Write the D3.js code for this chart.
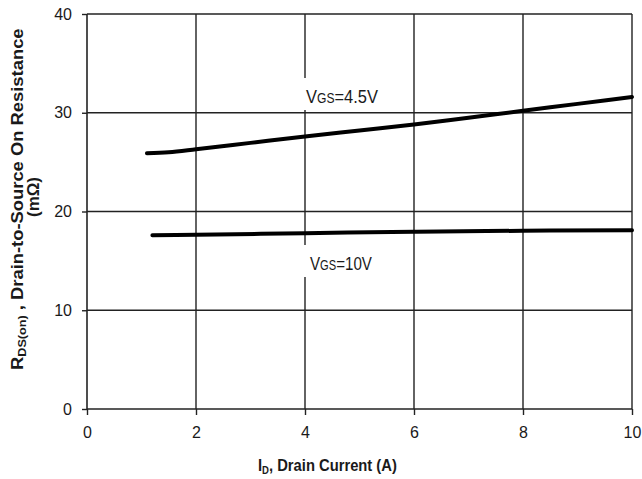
<!DOCTYPE html>
<html>
<head>
<meta charset="utf-8">
<script src="https://cdn.jsdelivr.net/npm/d3@7"></script>
<style>
  html, body { margin: 0; padding: 0; background: #fff; }
  svg { display: block; }
  text { font-family: "Liberation Sans Narrow", "Arial Narrow", "Liberation Sans", Arial, sans-serif; fill: #1a1a1a; }
</style>
</head>
<body>
<svg id="chart" width="642" height="479"></svg>
<script>
// On-resistance vs drain current, two gate voltages
const xTicks = [0, 2, 4, 6, 8, 10];
const yTicks = [0, 10, 20, 30, 40];

const currentVgs45 = [1.1, 1.5, 2, 3, 4, 5, 6, 7, 8, 9, 10];
const rdsVgs45     = [25.9, 26.0, 26.3, 26.95, 27.6, 28.2, 28.8, 29.5, 30.2, 30.9, 31.6];

const currentVgs10 = [1.2, 2, 4, 6, 8, 10];
const rdsVgs10     = [17.6, 17.65, 17.8, 17.95, 18.05, 18.1];

const svg = d3.select("#chart");

const x = d3.scaleLinear().domain([0, 10]).range([87, 632]);
const y = d3.scaleLinear().domain([0, 40]).range([409, 14]);

const gridColor = "#222";

// grid lines
svg.append("g").selectAll("line").data(yTicks.filter(d => d > 0)).join("line")
  .attr("x1", x(0)).attr("x2", x(10))
  .attr("y1", d => y(d)).attr("y2", d => y(d))
  .attr("stroke", gridColor).attr("stroke-width", 1.4);

svg.append("g").selectAll("line").data(xTicks.filter(d => d > 0)).join("line")
  .attr("x1", d => x(d)).attr("x2", d => x(d))
  .attr("y1", y(0)).attr("y2", y(40))
  .attr("stroke", gridColor).attr("stroke-width", 1.4);

// axes
const xAxis = d3.axisBottom(x).tickValues(xTicks).tickSize(6).tickPadding(12);
const yAxis = d3.axisLeft(y).tickValues(yTicks).tickSize(5).tickPadding(10);

const gx = svg.append("g").attr("transform", `translate(0,${y(0)})`).call(xAxis);
const gy = svg.append("g").attr("transform", `translate(${x(0)},0)`).call(yAxis);
[gx, gy].forEach(g => {
  g.select(".domain").attr("stroke", gridColor).attr("stroke-width", 1.6);
  g.selectAll(".tick line").attr("stroke", gridColor).attr("stroke-width", 1.4);
  g.selectAll(".tick text").attr("font-size", 16).attr("fill", "#1a1a1a")
    .style("font-family", '"Liberation Sans Narrow", "Arial Narrow", "Liberation Sans", Arial, sans-serif');
});
gx.select(".domain").attr("d", `M${x(0)},0H${x(10)}`);
gy.select(".domain").attr("d", `M0,${y(0)}V${y(40)}`);

// curves
const line = d3.line().x(d => x(d[0])).y(d => y(d[1])).curve(d3.curveMonotoneX);
const s45 = currentVgs45.map((c, i) => [c, rdsVgs45[i]]);
const s10 = currentVgs10.map((c, i) => [c, rdsVgs10[i]]);

[s45, s10].forEach(s => {
  svg.append("path").datum(s).attr("d", line)
    .attr("fill", "none").attr("stroke", "#000").attr("stroke-width", 4)
    .attr("stroke-linecap", "round");
});

// squeeze a text horizontally (in its own frame) to a target width
function fitWidth(t, width) {
  const w = t.node().getComputedTextLength();
  return w > 0 ? width / w : 1;
}

// curve labels, with a white backing that interrupts the grid
function curveLabel(px, py, rest, width) {
  svg.append("rect").attr("x", px - 6).attr("y", py - 25).attr("width", width + 10).attr("height", 32)
    .attr("fill", "#fff");
  const t = svg.append("text").attr("font-size", 19);
  t.append("tspan").text("V");
  t.append("tspan").attr("font-size", 14).text("GS");
  t.append("tspan").text(rest);
  const k = fitWidth(t, width);
  t.attr("transform", `translate(${px},${py}) scale(${k},1)`);
}
curveLabel(306, 103, "=4.5V", 72);
curveLabel(310, 270, "=10V", 62);

// x-axis title
const xt = svg.append("text").attr("font-size", 17).attr("font-weight", "bold");
xt.append("tspan").text("I");
xt.append("tspan").attr("font-size", 11).attr("dy", 3).text("D");
xt.append("tspan").attr("dy", -3).text(", Drain Current (A)");
xt.attr("transform", `translate(258,471) scale(${fitWidth(xt, 139)},1)`);

// y-axis title (two lines, rotated)
const yt = svg.append("text").attr("font-size", 16).attr("font-weight", "bold");
yt.append("tspan").text("R");
yt.append("tspan").attr("font-size", 11).attr("dy", 3).text("DS(on)");
yt.append("tspan").attr("dy", -3).text(" , Drain-to-Source On Resistance");
yt.attr("transform", `translate(23,370) rotate(-90) scale(${fitWidth(yt, 342)},1)`);

const yu = svg.append("text").attr("text-anchor", "middle")
  .attr("font-size", 16).attr("font-weight", "bold").text("(mΩ)");
yu.attr("transform", `translate(39,197) rotate(-90) scale(${fitWidth(yu, 40)},1)`);
</script>
</body>
</html>
